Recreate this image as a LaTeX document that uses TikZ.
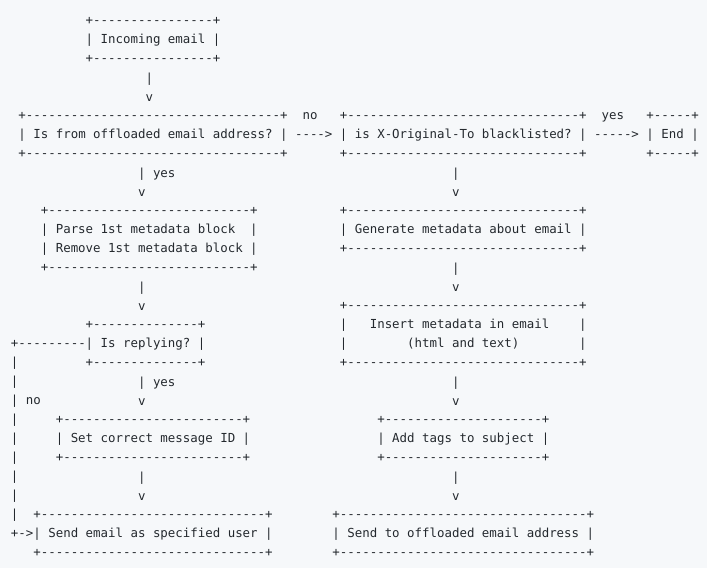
\documentclass[tikz,border=0pt]{standalone}
\usepackage{fontspec}
\newfontfamily\asciifont{DejaVu Sans Mono}[Ligatures=TeXOff]
\usetikzlibrary{positioning}
\definecolor{ink}{HTML}{24292E}
\definecolor{paper}{HTML}{F6F8FA}
\frenchspacing
% one text row: fixed height and depth
\newcommand{\rs}{\rule[-5pt]{0pt}{14pt}}
% box edge +----+ and runs of spaces
\newcommand{\hr}[1]{\rs+\foreach\k in {1,...,#1}{-}+}
\newcommand{\sps}[1]{\foreach\k in {1,...,#1}{\ }}
\tikzset{
  ascii/.style={font=\asciifont\fontsize{12.42pt}{19pt}\selectfont\frenchspacing,
    text=ink, align=left, anchor=north west, inner sep=0pt, yshift=14pt}
}
\begin{document}
\begin{tikzpicture}[x=7.476pt, y=-19pt]
    \useasboundingbox[fill=paper] (-10.76pt,10.5pt) rectangle (696.24pt,-557.5pt);
    % left column
    \node[ascii] (incoming) at (10,1) {\hr{16}\\\rs| Incoming email |\\\hr{16}};
    \node[ascii] (in2off) at (18,4) {\rs|\\\rs v};
    \node[ascii] (offloaded) at (1,6) {\hr{34}\\\rs| Is from offloaded email address? |\\\hr{34}};
    \node[ascii] (off2bl) at (38,6) {\rs\ no\\\rs---->};
    \node[ascii] (blacklisted) at (44,6) {\hr{31}\\\rs| is X-Original-To blacklisted? |\\\hr{31}};
    \node[ascii] (bl2stop) at (78,6) {\rs\ yes\\\rs----->};
    \node[ascii] (stop) at (85,6) {\hr{5}\\\rs| End |\\\hr{5}};
    \node[ascii] (off2parse) at (17,9) {\rs| yes\\\rs v};
    \node[ascii] (parse) at (4,11) {\hr{27}\\\rs| Parse 1st metadata block\sps{2}|\\\rs| Remove 1st metadata block |\\\hr{27}};
    \node[ascii] (parse2reply) at (17,15) {\rs|\\\rs v};
    \node[ascii] (replying) at (10,17) {\hr{14}\\\rs| Is replying? |\\\hr{14}};
    \node[ascii] (reply2user) at (0,18) {\rs+\foreach\k in {1,...,9}{-}\\\rs|\\\rs|\\\rs| no\\\rs|\\\rs|\\\rs|\\\rs|\\\rs|\\\rs|\\\rs+->};
    \node[ascii] (reply2id) at (17,20) {\rs| yes\\\rs v};
    \node[ascii] (setid) at (6,22) {\hr{24}\\\rs| Set correct message ID |\\\hr{24}};
    \node[ascii] (id2user) at (17,25) {\rs|\\\rs v};
    \node[ascii] (senduser) at (3,27) {\hr{30}\\\rs| Send email as specified user |\\\hr{30}};
    % right column
    \node[ascii] (bl2gen) at (59,9) {\rs|\\\rs v};
    \node[ascii] (generate) at (44,11) {\hr{31}\\\rs| Generate metadata about email |\\\hr{31}};
    \node[ascii] (gen2ins) at (59,14) {\rs|\\\rs v};
    \node[ascii] (insert) at (44,16) {\hr{31}\\\rs|\sps{3}Insert metadata in email\sps{4}|\\\rs|\sps{8}(html and text)\sps{8}|\\\hr{31}};
    \node[ascii] (ins2tags) at (59,20) {\rs|\\\rs v};
    \node[ascii] (addtags) at (49,22) {\hr{21}\\\rs| Add tags to subject |\\\hr{21}};
    \node[ascii] (tags2send) at (59,25) {\rs|\\\rs v};
    \node[ascii] (sendto) at (43,27) {\hr{33}\\\rs| Send to offloaded email address |\\\hr{33}};
\end{tikzpicture}
\end{document}
